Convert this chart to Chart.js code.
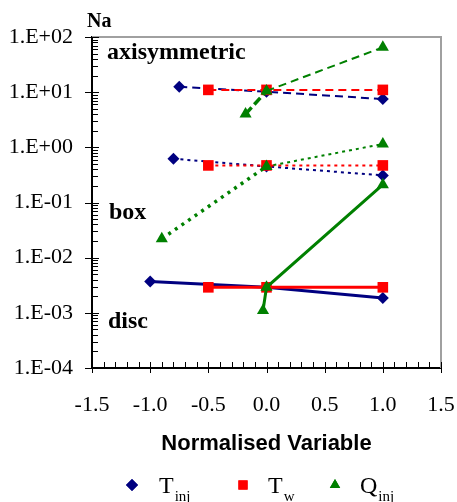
<!DOCTYPE html>
<html>
<head>
<meta charset="utf-8">
<script src="https://cdn.jsdelivr.net/npm/chart.js@4.4.0/dist/chart.umd.min.js"></script>
<style>
  html, body { margin: 0; padding: 0; background: #fff; }
  canvas { display: block; }
</style>
</head>
<body>
<canvas id="naChart" width="457" height="502"></canvas>
<script>
// series names (letter + subscript) and the three geometries
const seriesLetters = ['T', 'T', 'Q'];
const seriesSubs = ['inj', 'w', 'inj'];
const geometries = ['axisymmetric', 'box', 'disc'];

// axisymmetric (dashed)
const axiTinjX = [-0.75, 0, 1];
const axiTinjY = [12.5, 10.2, 7.5];
const axiTwX = [-0.5, 0, 1];
const axiTwY = [11, 11, 11];
const axiQinjX = [-0.18, 0, 1];
const axiQinjY = [4.0, 10.5, 65];

// box (dotted)
const boxTinjX = [-0.8, 0, 1];
const boxTinjY = [0.62, 0.45, 0.31];
const boxTwX = [-0.5, 0, 1];
const boxTwY = [0.47, 0.47, 0.47];
const boxQinjX = [-0.9, 0, 1];
const boxQinjY = [0.022, 0.45, 1.15];

// disc (solid)
const discTinjX = [-1, 0, 1];
const discTinjY = [0.0037, 0.0029, 0.00185];
const discTwX = [-0.5, 0, 1];
const discTwY = [0.0029, 0.0029, 0.0029];
const discQinjX = [-0.03, 0, 1];
const discQinjY = [0.0011, 0.0029, 0.21];

// axis ticks
const xTicks = [-1.5, -1.0, -0.5, 0.0, 0.5, 1.0, 1.5];
const yTicks = [1e-4, 1e-3, 1e-2, 1e-1, 1e0, 1e1, 1e2];

const NAVY = '#000080', RED = '#ff0000', GREEN = '#008000';
const seriesColors = [NAVY, RED, GREEN];
const seriesPoints = [
  { pointStyle: 'rectRot', pointRadius: 6 },
  { pointStyle: 'rect', pointRadius: 7.5 },
  { pointStyle: 'triangle', pointRadius: 7 }
];

const lineStyles = {
  axisymmetric: { borderDash: [8, 5], borderWidth: 2 },
  box: { borderDash: [3, 4], borderWidth: 2 },
  disc: { borderDash: [], borderWidth: 3 }
};

function makeSet(xs, ys, series, geom) {
  const st = lineStyles[geom];
  const ds = {
    label: seriesLetters[series] + seriesSubs[series] + ' ' + geom,
    data: xs.map((x, i) => ({ x: x, y: ys[i] })),
    showLine: true,
    borderColor: seriesColors[series],
    backgroundColor: seriesColors[series],
    pointBackgroundColor: seriesColors[series],
    pointBorderColor: seriesColors[series],
    pointBorderWidth: 0,
    pointStyle: seriesPoints[series].pointStyle,
    pointRadius: seriesPoints[series].pointRadius,
    borderWidth: st.borderWidth,
    borderDash: st.borderDash,
    tension: 0,
    order: 2 - series
  };
  // the first green segment is drawn heavier in the original
  if (series === 2 && geom !== 'disc') {
    ds.segment = {
      borderWidth: ctx => ctx.p0DataIndex === 0 ? 3.5 : st.borderWidth,
      borderDash: ctx => ctx.p0DataIndex === 0 ? (geom === 'box' ? [3, 5] : [9, 4]) : st.borderDash
    };
  }
  return ds;
}

const datasets = [
  makeSet(axiTinjX, axiTinjY, 0, 'axisymmetric'),
  makeSet(axiTwX, axiTwY, 1, 'axisymmetric'),
  makeSet(axiQinjX, axiQinjY, 2, 'axisymmetric'),
  makeSet(boxTinjX, boxTinjY, 0, 'box'),
  makeSet(boxTwX, boxTwY, 1, 'box'),
  makeSet(boxQinjX, boxQinjY, 2, 'box'),
  makeSet(discTinjX, discTinjY, 0, 'disc'),
  makeSet(discTwX, discTwY, 1, 'disc'),
  makeSet(discQinjX, discQinjY, 2, 'disc')
];

function formatE(v) {
  const e = Math.round(Math.log10(v));
  return '1.E' + (e >= 0 ? '+' : '-') + String(Math.abs(e)).padStart(2, '0');
}

const serif = '"Liberation Serif", "Times New Roman", serif';

// frame, minor ticks, labels inside the plot and the legend
const decor = {
  id: 'decor',
  afterDraw(chart) {
    const { ctx, chartArea: a, scales: { x, y } } = chart;
    ctx.save();

    // grey top and right frame
    ctx.strokeStyle = '#a0a0a0';
    ctx.lineWidth = 2;
    ctx.beginPath();
    ctx.moveTo(a.left, a.top);
    ctx.lineTo(a.right, a.top);
    ctx.lineTo(a.right, a.bottom);
    ctx.stroke();

    // log ticks on the y axis
    ctx.strokeStyle = '#000';
    ctx.lineWidth = 1;
    for (let e = -4; e <= 2; e++) {
      for (let k = 1; k <= 9; k++) {
        const v = k * Math.pow(10, e);
        if (v > 100.0001) break;
        const py = Math.round(y.getPixelForValue(v)) + 0.5;
        ctx.beginPath();
        ctx.moveTo(k === 1 ? a.left - 7 : a.left, py);
        ctx.lineTo(a.left + (k === 1 ? 7 : 6), py);
        ctx.stroke();
      }
    }

    // ticks on the x axis, every 0.1
    for (let i = -15; i <= 15; i++) {
      const px = Math.round(x.getPixelForValue(i / 10)) + 0.5;
      const major = i % 5 === 0;
      ctx.beginPath();
      ctx.moveTo(px, a.bottom - 6);
      ctx.lineTo(px, a.bottom + (major ? 5 : 0));
      ctx.stroke();
    }

    // labels
    ctx.fillStyle = '#000';
    ctx.textAlign = 'left';
    ctx.textBaseline = 'alphabetic';
    ctx.font = 'bold 20px ' + serif;
    ctx.fillText('Na', 87, 27);
    ctx.font = 'bold 24px ' + serif;
    ctx.fillText(geometries[0], 107, 59);
    ctx.fillText(geometries[1], 109, 219);
    ctx.fillText(geometries[2], 108, 328);

    // legend
    const legendX = [132, 243, 335];
    const textX = [159, 268, 360];
    const legendY = 485;
    for (let s = 0; s < 3; s++) {
      ctx.fillStyle = seriesColors[s];
      Chart.helpers.drawPoint(ctx, {
        pointStyle: seriesPoints[s].pointStyle,
        radius: s === 1 ? 6.5 : 6,
        borderWidth: 0
      }, legendX[s], legendY);
      ctx.fill();
      ctx.fillStyle = '#000';
      ctx.font = '24px ' + serif;
      ctx.fillText(seriesLetters[s], textX[s], 493);
      const w = ctx.measureText(seriesLetters[s]).width;
      ctx.font = '15px ' + serif;
      ctx.fillText(seriesSubs[s], textX[s] + w + 1, 501);
    }
    ctx.restore();
  }
};

new Chart(document.getElementById('naChart'), {
  type: 'scatter',
  data: { datasets: datasets },
  options: {
    responsive: false,
    animation: false,
    layout: { padding: { top: 37, right: 16, left: 0, bottom: 0 } },
    plugins: {
      legend: { display: false },
      tooltip: { enabled: false }
    },
    scales: {
      x: {
        type: 'linear',
        min: -1.5,
        max: 1.5,
        afterBuildTicks: s => { s.ticks = xTicks.map(v => ({ value: v })); },
        afterFit: s => { s.height = 134; s.paddingLeft = 0; s.paddingRight = 0; },
        ticks: {
          callback: v => v.toFixed(1),
          color: '#000',
          font: { family: serif, size: 22 },
          padding: 24,
          autoSkip: false,
          maxRotation: 0
        },
        grid: { display: false, drawTicks: false },
        border: { display: true, color: '#000', width: 2 },
        title: {
          display: true,
          text: 'Normalised Variable',
          color: '#000',
          font: { family: '"Liberation Sans", Arial, sans-serif', size: 22, weight: 'bold' },
          padding: { top: 0, bottom: 45 }
        }
      },
      y: {
        type: 'logarithmic',
        min: 1e-4,
        max: 1e2,
        afterBuildTicks: s => { s.ticks = yTicks.map(v => ({ value: v })); },
        afterFit: s => { s.width = 92; s.paddingTop = 0; s.paddingBottom = 0; },
        ticks: {
          callback: v => formatE(v),
          color: '#000',
          font: { family: serif, size: 22 },
          padding: 19,
          autoSkip: false
        },
        grid: { display: false, drawTicks: false },
        border: { display: true, color: '#000', width: 2 }
      }
    }
  },
  plugins: [decor]
});
</script>
</body>
</html>
